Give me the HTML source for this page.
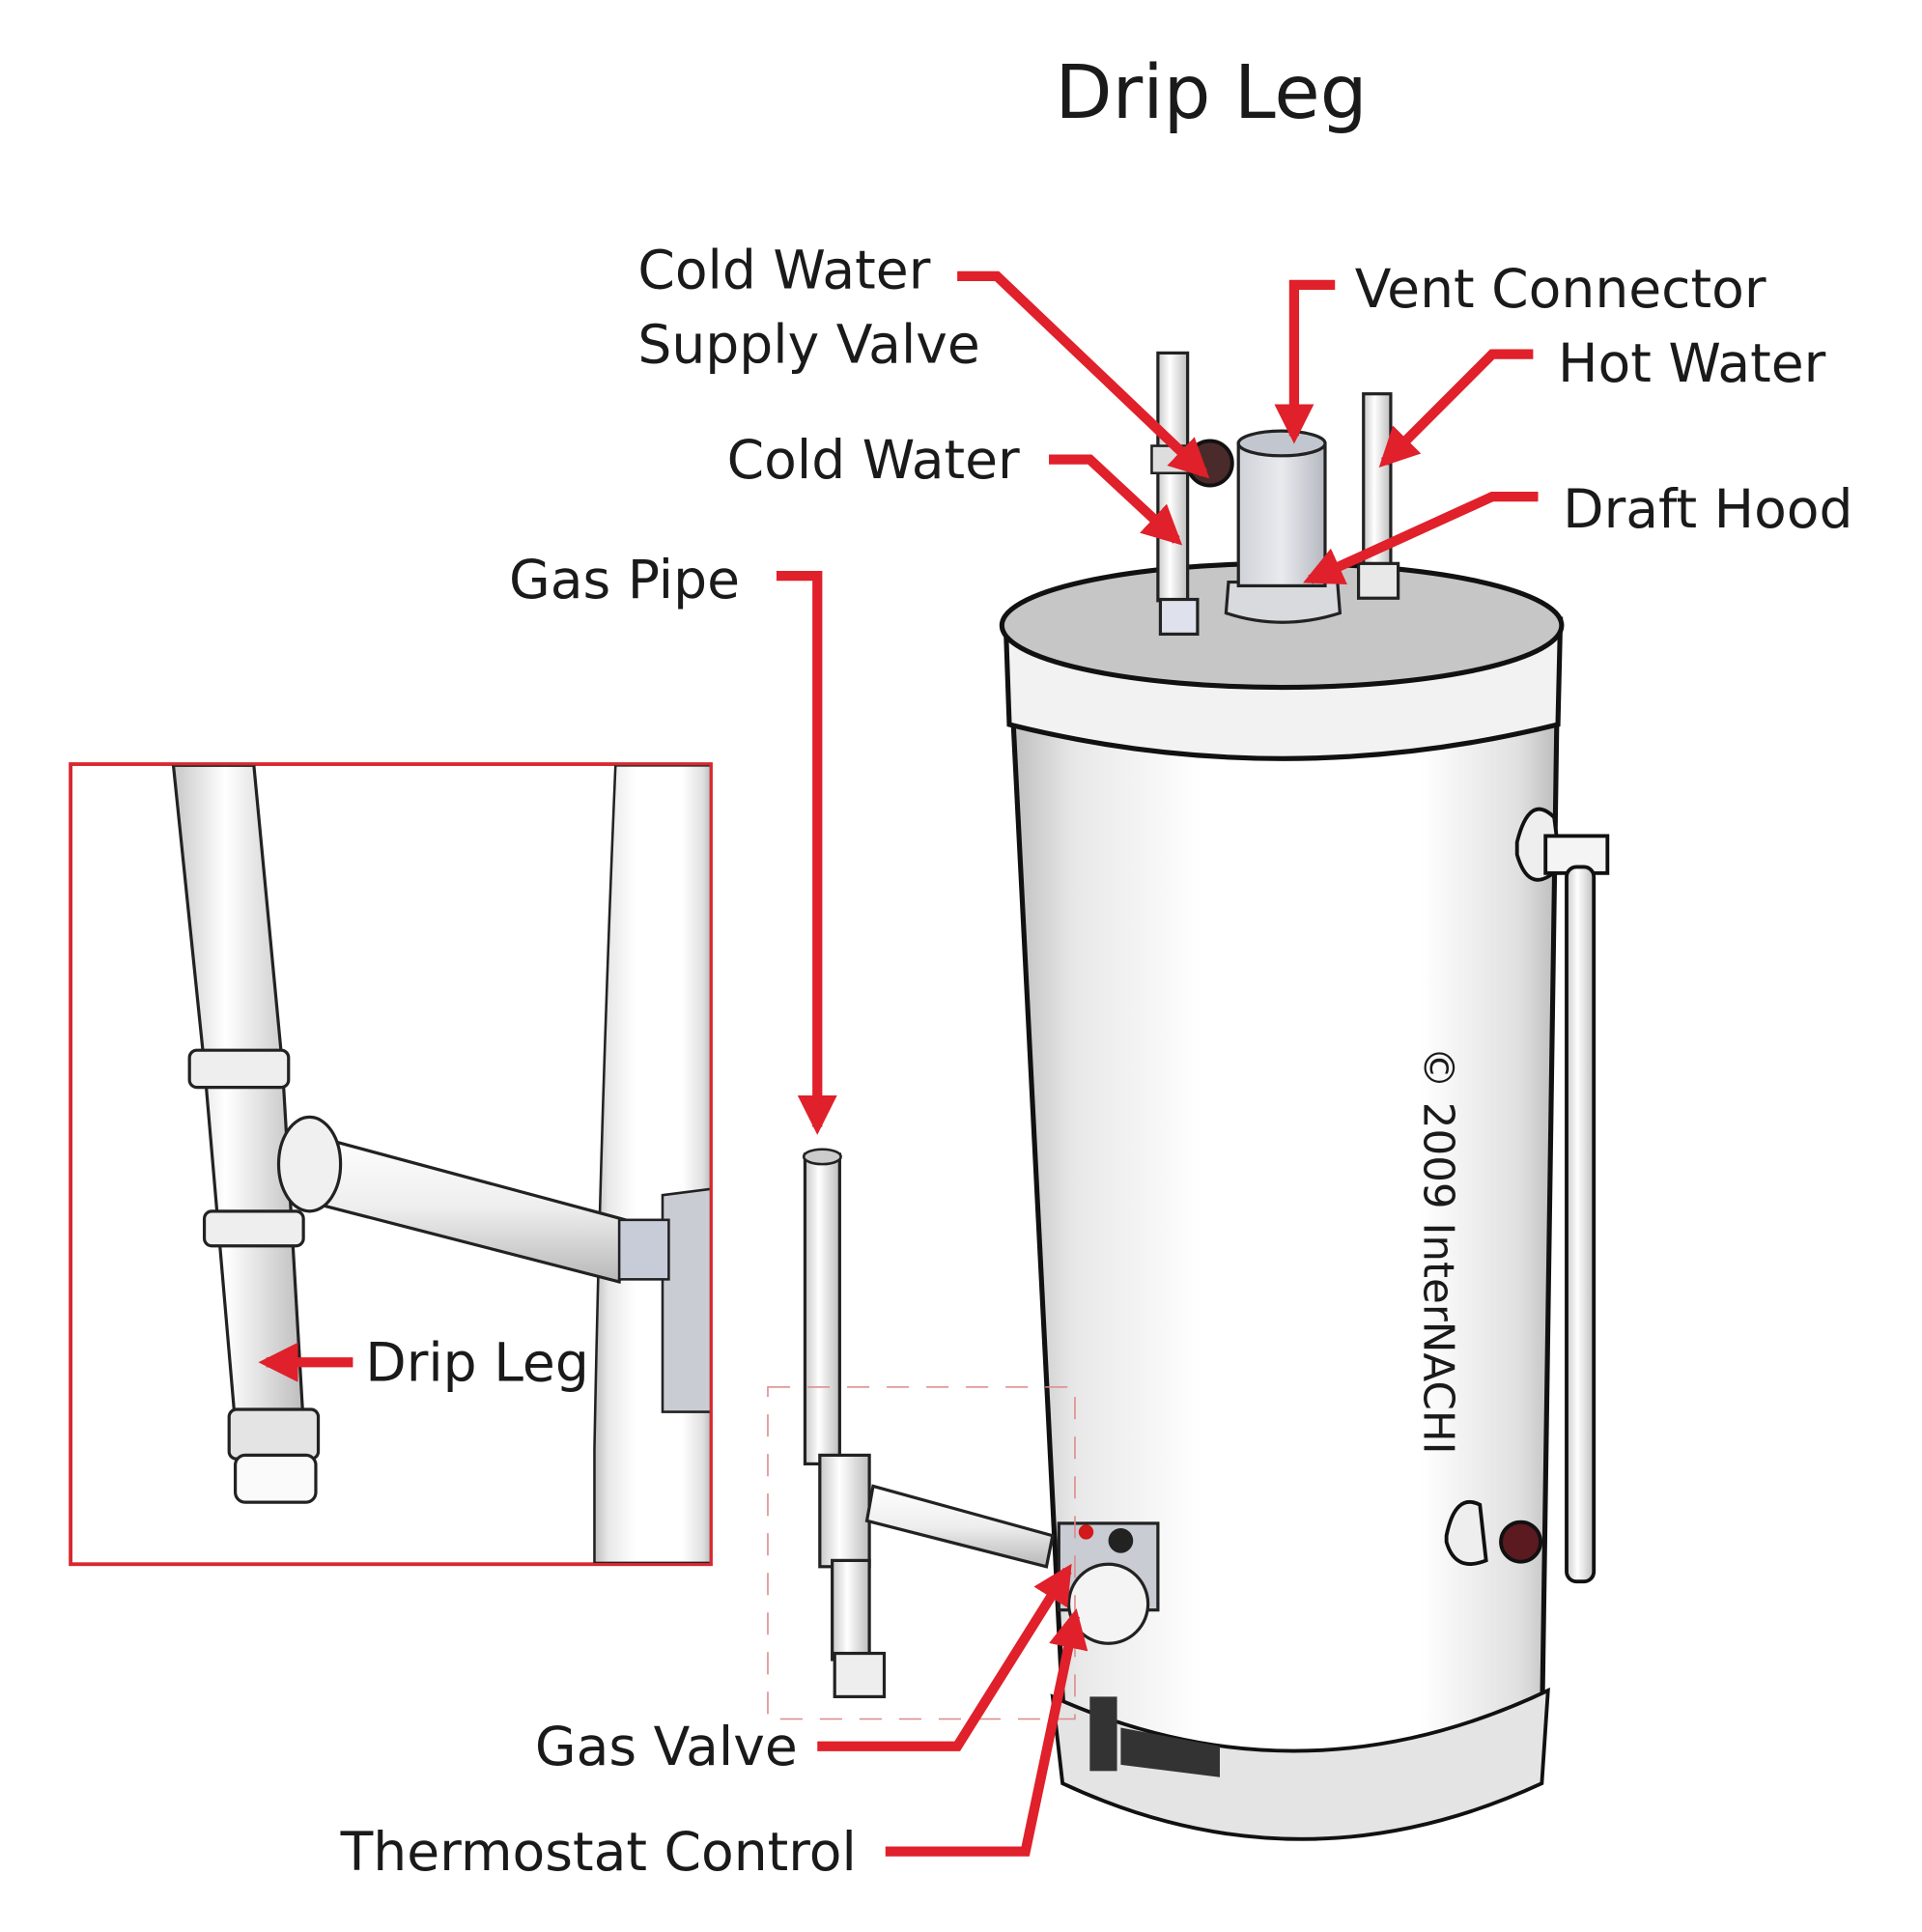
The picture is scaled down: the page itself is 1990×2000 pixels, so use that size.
<!DOCTYPE html>
<html><head><meta charset="utf-8"><style>
html,body{margin:0;padding:0;background:#fff}
svg{display:block}
text{font-family:"DejaVu Sans","Liberation Sans",sans-serif;fill:#1a1a1a}
</style></head><body>
<svg width="1990" height="2000" viewBox="0 0 1552 1560" preserveAspectRatio="none" xmlns="http://www.w3.org/2000/svg">
<defs>
<linearGradient id="body" x1="0" x2="1" y1="0" y2="0">
<stop offset="0" stop-color="#bdbdbd"/><stop offset="0.12" stop-color="#e8e8e8"/><stop offset="0.35" stop-color="#fff"/><stop offset="0.75" stop-color="#fff"/><stop offset="0.93" stop-color="#e0e0e0"/><stop offset="1" stop-color="#bcbcbc"/>
</linearGradient>
<linearGradient id="pipe" x1="0" x2="1"><stop offset="0" stop-color="#c8c8c8"/><stop offset="0.4" stop-color="#fff"/><stop offset="1" stop-color="#bdbdbd"/></linearGradient>
<linearGradient id="pipeh" x1="0" x2="0" y1="0" y2="1"><stop offset="0" stop-color="#fff"/><stop offset="0.5" stop-color="#eee"/><stop offset="1" stop-color="#b8b8b8"/></linearGradient>
<linearGradient id="vent" x1="0" x2="1"><stop offset="0" stop-color="#cfd2d8"/><stop offset="0.5" stop-color="#e8eaee"/><stop offset="1" stop-color="#b5b8c0"/></linearGradient>
<marker id="ah" viewBox="0 0 10 10" refX="8" refY="5" markerWidth="4" markerHeight="4" orient="auto"><path d="M0,0 L10,5 L0,10 z" fill="#e0202a"/></marker>
</defs>

<text x="978" y="95" font-size="60" text-anchor="middle">Drip Leg</text>

<path d="M815,520 L860,1410 Q1050,1500 1245,1405 L1258,520 Z" fill="url(#body)" stroke="#111" stroke-width="4"/>
<path d="M850,1370 L858,1440 Q1050,1530 1245,1440 L1250,1365 Q1050,1460 850,1370Z" fill="#e4e4e4" stroke="#111" stroke-width="3"/>
<path d="M812,500 L815,585 Q1035,640 1258,585 L1260,500 Z" fill="#f2f2f2" stroke="#111" stroke-width="4"/>
<ellipse cx="1035" cy="505" rx="226" ry="50" fill="#c6c6c6" stroke="#111" stroke-width="4"/>

<rect x="935" y="285" width="24" height="200" fill="url(#pipe)" stroke="#222" stroke-width="2.5"/>
<rect x="937" y="484" width="30" height="28" fill="#dfe2ec" stroke="#222" stroke-width="2.5"/>
<circle cx="977" cy="374" r="18" fill="#4a2a2a" stroke="#111" stroke-width="3"/>
<rect x="930" y="360" width="30" height="22" fill="#ddd" stroke="#222" stroke-width="2"/>
<rect x="1101" y="318" width="22" height="145" fill="url(#pipe)" stroke="#222" stroke-width="2.5"/>
<rect x="1097" y="455" width="32" height="28" fill="#e8e8e8" stroke="#222" stroke-width="2.5"/>
<path d="M992,470 L990,495 Q1035,510 1082,495 L1080,470Z" fill="#d8dade" stroke="#222" stroke-width="2.5"/>
<rect x="1000" y="358" width="70" height="115" fill="url(#vent)" stroke="#222" stroke-width="2.5"/>
<ellipse cx="1035" cy="358" rx="35" ry="10" fill="#c2c6ce" stroke="#222" stroke-width="2.5"/>

<path d="M1225,680 Q1235,640 1255,660 L1260,700 Q1235,725 1225,690Z" fill="#eee" stroke="#111" stroke-width="3"/>
<rect x="1248" y="675" width="50" height="30" fill="#f4f4f4" stroke="#111" stroke-width="3"/>
<rect x="1265" y="700" width="22" height="577" rx="8" fill="url(#pipe)" stroke="#111" stroke-width="3"/>
<path d="M1168,1240 Q1175,1205 1195,1215 L1200,1260 Q1175,1270 1168,1245Z" fill="#eee" stroke="#111" stroke-width="3"/>
<circle cx="1228" cy="1245" r="16" fill="#5a1a20" stroke="#111" stroke-width="3"/>

<rect x="650" y="932" width="28" height="250" fill="url(#pipe)" stroke="#222" stroke-width="2.5"/>
<ellipse cx="664" cy="934" rx="15" ry="6" fill="#ccc" stroke="#222" stroke-width="2"/>
<rect x="662" y="1175" width="40" height="90" fill="url(#pipe)" stroke="#222" stroke-width="2.5"/>
<rect x="672" y="1260" width="30" height="80" fill="url(#pipe)" stroke="#222" stroke-width="2.5"/>
<rect x="674" y="1335" width="40" height="35" fill="#eee" stroke="#222" stroke-width="2.5"/>
<path d="M705,1200 L850,1240 L845,1265 L700,1228Z" fill="url(#pipeh)" stroke="#222" stroke-width="2.5"/>
<rect x="855" y="1230" width="80" height="70" fill="#c9ccd2" stroke="#222" stroke-width="2.5"/>
<circle cx="877" cy="1237" r="6" fill="#d21a1a"/>
<circle cx="905" cy="1244" r="10" fill="#222"/>
<circle cx="895" cy="1295" r="32" fill="#f4f4f4" stroke="#222" stroke-width="2.5"/>
<rect x="880" y="1370" width="22" height="60" fill="#333"/>
<path d="M905,1395 L985,1410 L985,1435 L905,1425Z" fill="#333"/>
<rect x="620" y="1120" width="248" height="268" fill="none" stroke="#d88" stroke-width="1.2" stroke-dasharray="18,14"/>

<text transform="translate(1150,845) rotate(90)" font-size="34">© 2009 InterNACHI</text>

<rect x="57" y="617" width="517" height="646" fill="#fff" stroke="#d8282e" stroke-width="3"/>
<clipPath id="ic"><rect x="58" y="618" width="515" height="644"/></clipPath>
<g clip-path="url(#ic)">
<path d="M497,618 L574,618 L574,1262 L480,1262 L480,1170 Q485,900 497,618Z" fill="url(#body)" stroke="#222" stroke-width="2"/>
<path d="M535,965 L574,960 L574,1140 L535,1140Z" fill="#c9ccd2" stroke="#222" stroke-width="2"/>
<path d="M140,618 L205,618 L228,860 L245,1150 L190,1150 L165,860Z" fill="url(#pipe)" stroke="#222" stroke-width="2.5"/>
<rect x="153" y="848" width="80" height="30" rx="6" fill="#eee" stroke="#222" stroke-width="2.5"/>
<rect x="165" y="978" width="80" height="28" rx="6" fill="#eee" stroke="#222" stroke-width="2.5"/>
<path d="M245,915 L505,985 L500,1035 L240,968Z" fill="url(#pipeh)" stroke="#222" stroke-width="2.5"/>
<ellipse cx="250" cy="940" rx="25" ry="38" fill="#f0f0f0" stroke="#222" stroke-width="2.5"/>
<rect x="500" y="985" width="40" height="48" fill="#c8ccd8" stroke="#222" stroke-width="2"/>
<rect x="185" y="1138" width="72" height="40" rx="6" fill="#e4e4e4" stroke="#222" stroke-width="2.5"/>
<rect x="190" y="1175" width="65" height="38" rx="8" fill="#fafafa" stroke="#222" stroke-width="2.5"/>
</g>
<text x="295" y="1115" font-size="43">Drip Leg</text>
<line x1="285" y1="1100" x2="215" y2="1100" stroke="#e0202a" stroke-width="8" marker-end="url(#ah)"/>

<g font-size="43">
<text x="515" y="233">Cold Water</text>
<text x="515" y="293">Supply Valve</text>
<text x="1094" y="248">Vent Connector</text>
<text x="1258" y="308">Hot Water</text>
<text x="587" y="386">Cold Water</text>
<text x="1262" y="426">Draft Hood</text>
<text x="411" y="483">Gas Pipe</text>
<text x="432" y="1425">Gas Valve</text>
<text x="275" y="1510">Thermostat Control</text>
</g>

<g fill="none" stroke="#e0202a" stroke-width="8" stroke-linejoin="miter">
<polyline points="773,223 805,223 972,382" marker-end="url(#ah)"/>
<polyline points="1078,230 1045,230 1045,352" marker-end="url(#ah)"/>
<polyline points="1238,286 1205,286 1118,373" marker-end="url(#ah)"/>
<polyline points="847,371 880,371 950,436" marker-end="url(#ah)"/>
<polyline points="1242,401 1205,401 1058,468" marker-end="url(#ah)"/>
<polyline points="627,465 660,465 660,910" marker-end="url(#ah)"/>
<polyline points="660,1410 773,1410 862,1268" marker-end="url(#ah)"/>
<polyline points="715,1495 828,1495 868,1305" marker-end="url(#ah)"/>
</g>
</svg>
</body></html>
